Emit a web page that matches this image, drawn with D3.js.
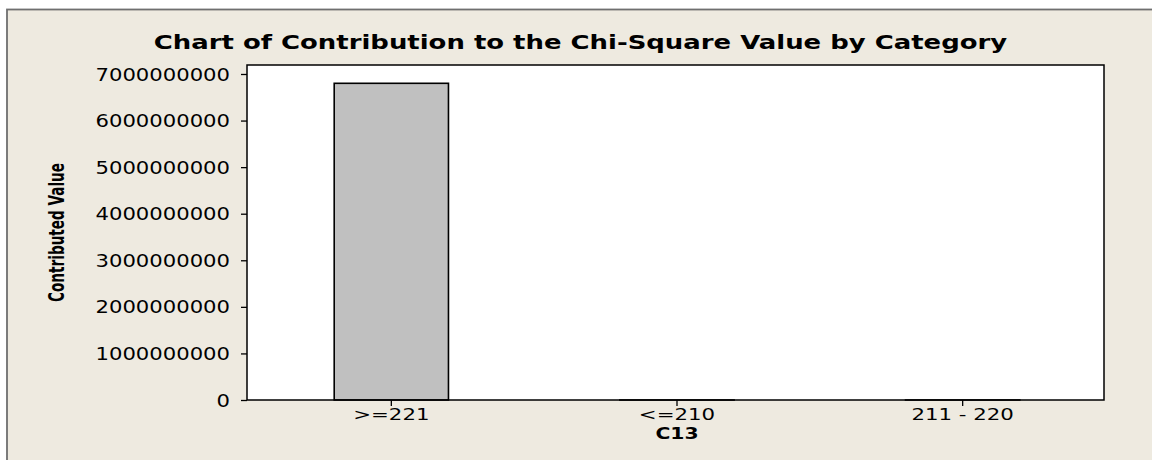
<!DOCTYPE html>
<html>
<head>
<meta charset="utf-8">
<script src="https://cdn.jsdelivr.net/npm/d3@7"></script>
<style>
  html, body { margin: 0; padding: 0; background: #ffffff; }
  svg { display: block; }
</style>
</head>
<body>
<svg id="chart" width="1152" height="460"></svg>
<script>
// ---- data ----
const categories = [">=221", "<=210", "211 - 220"];
const values = [6800000000, 30000, 15000];
const yTicks = [0, 1000000000, 2000000000, 3000000000, 4000000000, 5000000000, 6000000000, 7000000000];
const titleText = "Chart of Contribution to the Chi-Square Value by Category";
const xTitle = "C13";
const yTitle = "Contributed Value";

// ---- layout ----
const W = 1152, H = 460;
const plot = { left: 247, right: 1104, top: 65, bottom: 400 };
const bg = "#EEEAE0";

const svg = d3.select("#chart");

// outer panel
svg.append("rect").attr("x", 0).attr("y", 0).attr("width", W).attr("height", H).attr("fill", "#ffffff");
svg.append("rect").attr("x", 7).attr("y", 9.5).attr("width", W).attr("height", H)
  .attr("fill", bg).attr("stroke", "#6f6f6f").attr("stroke-width", 1.8);

// plot area
svg.append("rect")
  .attr("x", plot.left).attr("y", plot.top)
  .attr("width", plot.right - plot.left).attr("height", plot.bottom - plot.top)
  .attr("fill", "#ffffff");

const x = d3.scaleBand().domain(categories)
  .range([plot.left + 1.5, plot.right + 1.5]).paddingInner(0.6).paddingOuter(0.3);
const y = d3.scaleLinear().domain([0, 7193000000]).range([plot.bottom, plot.top]);

// bars
svg.append("g").selectAll("rect").data(values).enter().append("rect")
  .attr("x", (d, i) => x(categories[i]))
  .attr("y", d => y(d))
  .attr("width", x.bandwidth())
  .attr("height", d => y(0) - y(d))
  .attr("fill", "#C0C0C0")
  .attr("stroke", "#000")
  .attr("stroke-width", 1.6);

// frame of plot
svg.append("rect")
  .attr("x", plot.left).attr("y", plot.top)
  .attr("width", plot.right - plot.left).attr("height", plot.bottom - plot.top)
  .attr("fill", "none").attr("stroke", "#000").attr("stroke-width", 1.5);

const fontMain = "Tahoma, 'DejaVu Sans', Verdana, sans-serif";

// y axis
const yAxis = svg.append("g").attr("transform", `translate(${plot.left},0)`)
  .call(d3.axisLeft(y).tickValues(yTicks).tickFormat(d3.format("d")).tickSize(6).tickPadding(11));
yAxis.select(".domain").remove();
yAxis.selectAll(".tick line").attr("stroke", "#000").attr("stroke-width", 1.3);
yAxis.selectAll(".tick text")
  .attr("font-family", fontMain).attr("font-size", 16.8).attr("fill", "#000")
  .attr("dy", "0.36em");

// x axis
const xAxis = svg.append("g").attr("transform", `translate(0,${plot.bottom})`)
  .call(d3.axisBottom(x).tickSize(6).tickPadding(5));
xAxis.select(".domain").remove();
xAxis.selectAll(".tick line").attr("stroke", "#000").attr("stroke-width", 1.3);
xAxis.selectAll(".tick text")
  .attr("font-family", fontMain).attr("font-size", 16.5).attr("fill", "#000")
  .attr("y", 20).attr("dy", 0);

// title
svg.append("text").attr("id", "title")
  .attr("x", (7 + W) / 2 + 1).attr("y", 49)
  .attr("text-anchor", "middle")
  .attr("font-family", fontMain).attr("font-weight", "bold").attr("font-size", 19.8)
  .attr("fill", "#000").text(titleText);

// x title
svg.append("text").attr("id", "xtitle")
  .attr("x", x(categories[1]) + x.bandwidth() / 2).attr("y", 439)
  .attr("text-anchor", "middle")
  .attr("font-family", fontMain).attr("font-weight", "bold").attr("font-size", 16)
  .attr("fill", "#000").text(xTitle);

// y title (condensed bold)
svg.append("text")
  .attr("id", "ytitle")
  .attr("transform", `translate(64,${(plot.top + plot.bottom) / 2}) rotate(-90)`)
  .attr("text-anchor", "middle")
  .attr("font-family", "'Liberation Sans Narrow', 'DejaVu Sans Condensed', 'Arial Narrow', sans-serif")
  .attr("font-stretch", "condensed")
  .attr("font-weight", "bold").attr("font-size", 21)
  .attr("fill", "#000").text(yTitle);

// horizontal stretch of the text, as in the reference rendering
function stretchTo(sel, target) {
  sel.each(function () {
    const len = this.getComputedTextLength();
    const t = typeof target === "function" ? target.call(this, len) : target;
    d3.select(this).attr("textLength", t).attr("lengthAdjust", "spacingAndGlyphs");
  });
}
stretchTo(yAxis.selectAll(".tick text"), len => len * 1.26);
stretchTo(xAxis.selectAll(".tick text"), len => len * 1.29);
stretchTo(d3.select("#title"), len => len * 1.31);
stretchTo(d3.select("#xtitle"), len => len * 1.27);
stretchTo(d3.select("#ytitle"), () => 139);
</script>
</body>
</html>
